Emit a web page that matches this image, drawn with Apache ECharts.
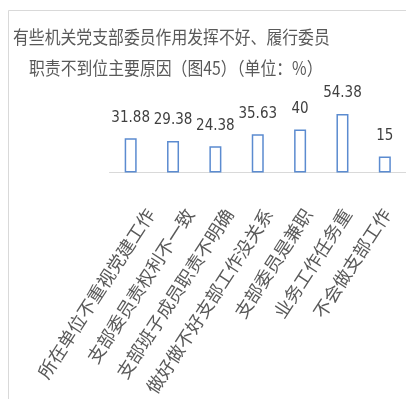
<!DOCTYPE html>
<html><head><meta charset="utf-8">
<script src="https://cdn.jsdelivr.net/npm/echarts@6/dist/echarts.min.js"></script>
<style>html,body{margin:0;padding:0;background:#fff}#c{width:406px;height:399px}</style>
</head><body><div id="c"></div>
<script>
const titleLine1 = '有些机关党支部委员作用发挥不好、履行委员';
const titleLine2 = '职责不到位主要原因（图45）（单位：%）';
const categories = ['所在单位不重视党建工作','支部委员责权利不一致','支部班子成员职责不明确','做好做不好支部工作没关系','支部委员是兼职','业务工作任务重','不会做支部工作'];
const values = [31.88, 29.38, 24.38, 35.63, 40, 54.38, 15];

const titleFont = {fontFamily:'Noto Sans CJK SC',fontSize:18,fill:'#595959',verticalAlign:'middle',align:'left'};
const chart = echarts.init(document.getElementById('c'), null, {renderer:'canvas'});
chart.setOption({
  animation:false,
  backgroundColor:'#fff',
  graphic:[
    {type:'rect',shape:{x:8.5,y:10.5,width:600,height:600},style:{fill:'none',stroke:'#d9d9d9',lineWidth:1},silent:true},
    {type:'text',x:13,y:37.5,scaleX:0.88,style:Object.assign({text:titleLine1},titleFont),silent:true},
    {type:'text',x:29,y:68.5,scaleX:0.88,style:Object.assign({text:titleLine2},titleFont),silent:true}
  ],
  grid:[
    {left:109.5,right:-10,top:108,bottom:226.5,containLabel:false},
    {left:130.5,right:-31,top:120,bottom:214.5,containLabel:false}
  ],
  xAxis:[
    {type:'category',data:categories,gridIndex:0,
      axisLine:{lineStyle:{color:'#d9d9d9',width:1}},
      axisTick:{show:false},axisLabel:{show:false}},
    {type:'category',data:categories,gridIndex:1,
      axisLine:{show:false},axisTick:{show:false},
      axisLabel:{interval:0,rotate:57,margin:44,verticalAlign:'middle',align:'right',
        fontFamily:'Noto Sans CJK SC',fontSize:18,color:'#595959'}}
  ],
  yAxis:[
    {type:'value',min:0,max:60,show:false,gridIndex:0},
    {type:'value',min:0,max:60,show:false,gridIndex:1}
  ],
  series:[{type:'bar',data:values,barWidth:12,xAxisIndex:0,yAxisIndex:0,
    itemStyle:{color:'#ffffff',borderColor:'#5b8bd0',borderWidth:1.5},
    label:{show:true,position:'top',distance:13,fontFamily:'Liberation Sans Narrow, DejaVu Sans Condensed, sans-serif',fontSize:15,color:'#404040'}
  }]
});
</script></body></html>
